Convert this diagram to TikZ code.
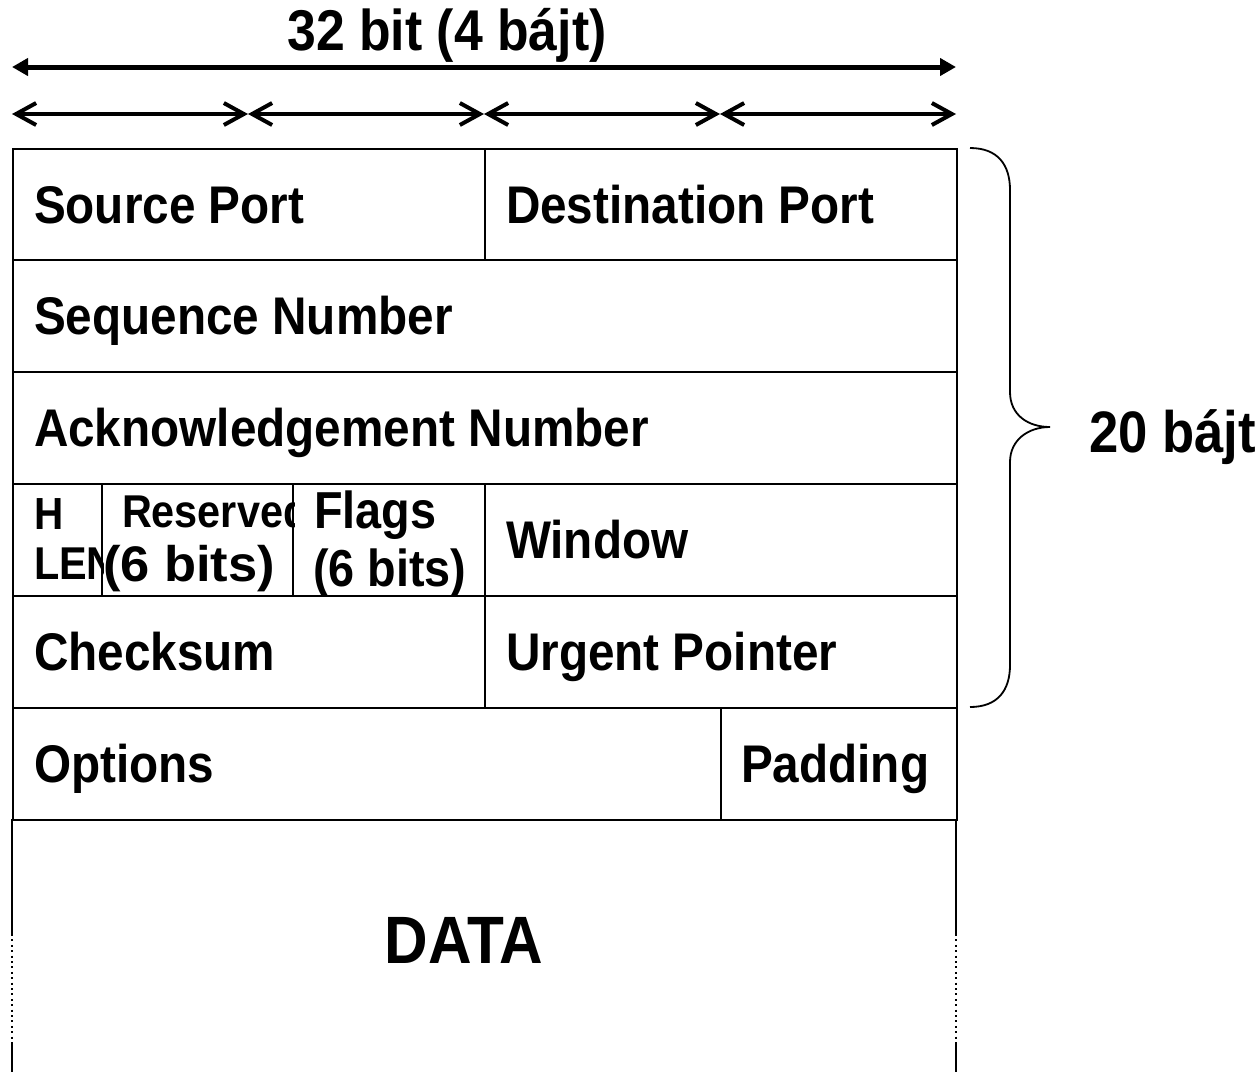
\documentclass[tikz,border=0pt]{standalone}
\usepackage{fontspec}
\setmainfont{Liberation Sans}[FakeStretch=0.9]
\newfontfamily\widefont{Liberation Sans}[FakeStretch=1.05]
\usepackage{tikz}
\usetikzlibrary{arrows.meta}

\begin{document}
\begin{tikzpicture}
            [
                x=1pt, y=-1pt,
                line width=2pt,
                font=\bfseries
            ]
            \tikzset{
                field/.style = {rectangle, draw=black, anchor=north west, inner sep=0pt},
                lbl/.style = {inner sep=0pt, anchor=base west, font=\fontsize{53}{60}\selectfont\bfseries},
                small/.style = {inner sep=0pt, anchor=base west, font=\fontsize{#1}{#1}\selectfont\bfseries},
                wide/.style = {inner sep=0pt, anchor=base west, font=\fontsize{#1}{#1}\widefont\bfseries},
                wordarrow/.style = {line width=4pt, line cap=round, {Straight Barb[length=20pt,width=22pt]}-{Straight Barb[length=20pt,width=22pt]}},
                fullarrow/.style = {line width=5pt, {Triangle[length=16pt,width=17pt]}-{Triangle[length=16pt,width=17pt]}},
                gap/.style = {line width=2pt, dash pattern=on 2pt off 3.4pt}
            }
            \useasboundingbox (0,0) rectangle (1260,1072);

            % width arrows
            \coordinate (w0) at (12,67);
            \coordinate (w1) at (956,67);
            \draw[fullarrow] (w0) -- (w1);
            \node[small=57.5, anchor=base] (width) at (447,50) {32 bit (4 bájt)};
            \foreach \i in {0,...,4} {
                \coordinate (b\i) at (12+236*\i,114);
            }
            \foreach \i/\j in {0/1,1/2,2/3,3/4} {
                \draw[wordarrow] (b\i) -- (b\j);
            }

            % header fields
            \node[field, minimum width=472pt, minimum height=111pt] (src) at (12,148) {};
            \node[field, minimum width=472pt, minimum height=111pt] (dst) at (484,148) {};
            \node[field, minimum width=944pt, minimum height=112pt] (seq) at (12,259) {};
            \node[field, minimum width=944pt, minimum height=112pt] (ack) at (12,371) {};
            \node[field, minimum width=89pt, minimum height=112pt] (hlen) at (12,483) {};
            \node[field, minimum width=191pt, minimum height=112pt] (resv) at (101,483) {};
            \node[field, minimum width=192pt, minimum height=112pt] (flags) at (292,483) {};
            \node[field, minimum width=472pt, minimum height=112pt] (win) at (484,483) {};
            \node[field, minimum width=472pt, minimum height=112pt] (chk) at (12,595) {};
            \node[field, minimum width=472pt, minimum height=112pt] (urg) at (484,595) {};
            \node[field, minimum width=708pt, minimum height=112pt] (opt) at (12,707) {};
            \node[field, minimum width=236pt, minimum height=112pt] (pad) at (720,707) {};

            \node[lbl] (srcT) at ([shift={(21,75)}]src.north west) {Source Port};
            \node[lbl] (dstT) at ([shift={(21,75)}]dst.north west) {Destination Port};
            \node[lbl] (seqT) at ([shift={(21,75)}]seq.north west) {Sequence Number};
            \node[lbl] (ackT) at ([shift={(21,75)}]ack.north west) {Acknowledgement Number};
            \node[lbl] (winT) at ([shift={(21,75)}]win.north west) {Window};
            \node[lbl] (chkT) at ([shift={(21,75)}]chk.north west) {Checksum};
            \node[lbl] (urgT) at ([shift={(21,75)}]urg.north west) {Urgent Pointer};
            \node[lbl] (optT) at ([shift={(21,75)}]opt.north west) {Options};
            \node[lbl] (padT) at ([shift={(20,75)}]pad.north west) {Padding};

            % narrow fields, text cut at the cell border
            \begin{scope}
                \clip (hlen.north west) rectangle (hlen.south east);
                \node[small=45] (hlenA) at ([shift={(21,46)}]hlen.north west) {H};
                \node[small=46] (hlenB) at ([shift={(21,96)}]hlen.north west) {LEN};
            \end{scope}
            \begin{scope}
                \clip (resv.north west) rectangle (resv.south east);
                \node[small=46] (resvA) at ([shift={(20,44)}]resv.north west) {Reserved};
                \node[wide=50] (resvB) at ([shift={(1,98)}]resv.north west) {(6 bits)};
            \end{scope}
            \node[small=52] (flagsA) at ([shift={(21,45)}]flags.north west) {Flags};
            \node[small=52] (flagsB) at ([shift={(20,103)}]flags.north west) {(6 bits)};

            % data part, open at the bottom
            \coordinate (dl0) at (12,819);
            \coordinate (dl1) at (12,934);
            \coordinate (dl2) at (12,1042);
            \coordinate (dl3) at (12,1072);
            \coordinate (dr0) at (956,819);
            \coordinate (dr1) at (956,934);
            \coordinate (dr2) at (956,1042);
            \coordinate (dr3) at (956,1072);
            \draw (dl0) -- (dl1) (dl2) -- (dl3);
            \draw (dr0) -- (dr1) (dr2) -- (dr3);
            \draw[gap] (dl1) -- (dl2) (dr1) -- (dr2);
            \node[small=67, anchor=base] (data) at (464,963) {DATA};

            % brace over the fixed header
            \draw[line width=1.8pt] (970,148) .. controls (998,148) and (1010,165) .. (1010,190)
                -- (1010,392) .. controls (1010,415) and (1028,427) .. (1050,427)
                .. controls (1028,427) and (1010,440) .. (1010,462)
                -- (1010,665) .. controls (1010,690) and (998,707) .. (970,707);
            \node[small=58.5] (hdr) at (1088,452) {20 bájt};
        \end{tikzpicture}
\end{document}
